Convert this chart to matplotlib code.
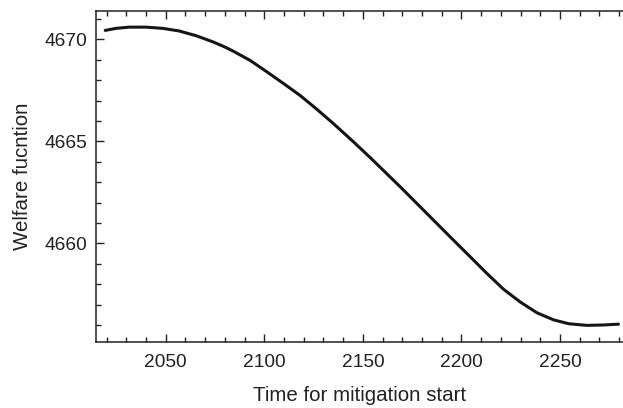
import numpy as np
import matplotlib
matplotlib.use('Agg')
import matplotlib.pyplot as plt
from matplotlib.ticker import MultipleLocator

# values
years = [2019.3, 2024.8, 2031.5, 2040.0, 2048.5, 2056.9, 2065.4, 2073.9,
         2079.7, 2084.3, 2092.8, 2101.3, 2109.7, 2118.2, 2126.6, 2135.1,
         2145.0, 2153.8, 2169.0, 2184.2, 2194.3, 2204.5, 2212.9, 2221.4,
         2229.8, 2238.3, 2246.8, 2254.5, 2263.7, 2272.1, 2279.7]
welfare = [4670.44, 4670.54, 4670.60, 4670.60, 4670.54, 4670.41, 4670.18,
           4669.88, 4669.64, 4669.42, 4668.97, 4668.41, 4667.84, 4667.25,
           4666.58, 4665.87, 4665.00, 4664.20, 4662.77, 4661.30, 4660.32,
           4659.34, 4658.53, 4657.75, 4657.13, 4656.60, 4656.25, 4656.06,
           4655.98, 4656.00, 4656.04]

x_label = 'Time for mitigation start'
y_label = 'Welfare fucntion'

plt.rcParams['font.family'] = ['Liberation Sans', 'DejaVu Sans']

fig = plt.figure(figsize=(6.23, 4.08), dpi=100)
ax = fig.add_axes([0.154, 0.1625, 0.846, 0.8105])

ax.plot(years, welfare, color='#151515', linewidth=2.2,
        solid_capstyle='round', solid_joinstyle='round')

ax.set_xlim(2014.6, 2282)
ax.set_ylim(4655.18, 4671.39)

ax.xaxis.set_major_locator(MultipleLocator(50))
ax.xaxis.set_minor_locator(MultipleLocator(10))
ax.yaxis.set_major_locator(MultipleLocator(5))
ax.yaxis.set_minor_locator(MultipleLocator(1))

ax.spines['right'].set_visible(False)
for s in ['left', 'bottom', 'top']:
    ax.spines[s].set_linewidth(1.1)
    ax.spines[s].set_color('#222222')

ax.tick_params(which='both', direction='in', top=True, right=False,
               color='#222222', width=1.0, labelsize=13.8, labelcolor='#222222')
ax.tick_params(which='major', length=6)
ax.tick_params(axis='x', which='major', pad=9)
ax.tick_params(axis='y', which='major', pad=6)
ax.tick_params(which='minor', length=3.5)

ax.set_xlabel(x_label, fontsize=14.8, color='#222222', labelpad=11)
ax.set_ylabel(y_label, fontsize=14.8, color='#222222', labelpad=9)

plt.savefig('out.png', dpi=100)
plt.close()
